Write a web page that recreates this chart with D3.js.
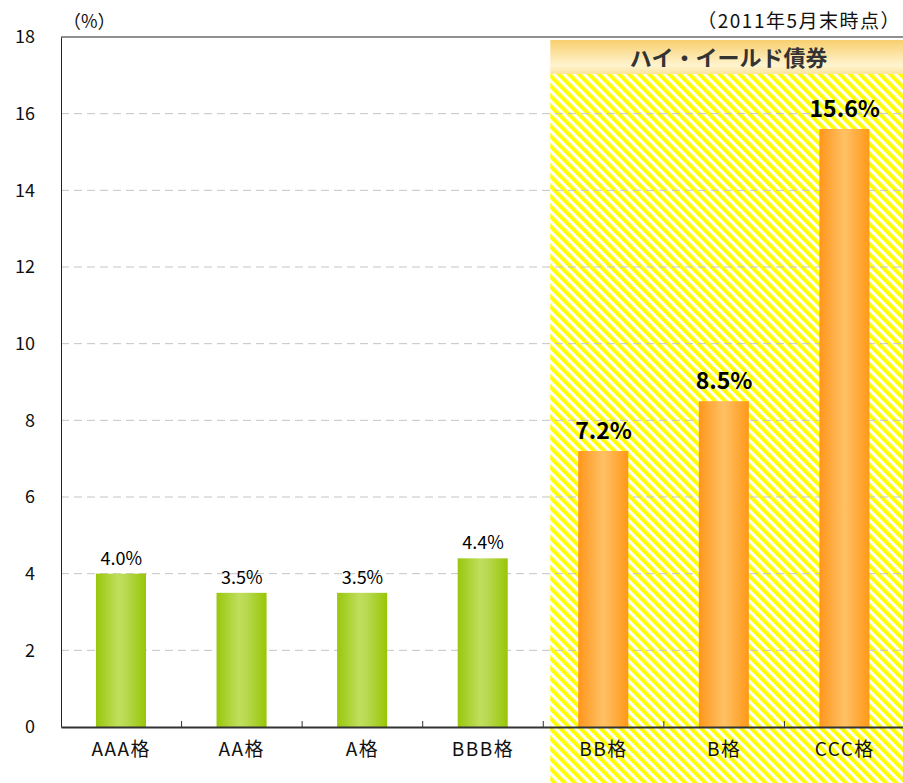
<!DOCTYPE html>
<html><head><meta charset="utf-8">
<script src="https://cdn.jsdelivr.net/npm/d3@7"></script>
<style>
body{margin:0;background:#fff;}
text{font-family:"Noto Sans CJK JP",sans-serif;}
</style></head>
<body><svg id="c" width="903" height="783"></svg>
<script>
const categories = ["AAA格","AA格","A格","BBB格","BB格","B格","CCC格"];
const values = [4.0, 3.5, 3.5, 4.4, 7.2, 8.5, 15.6];
const labels = ["4.0%","3.5%","3.5%","4.4%","7.2%","8.5%","15.6%"];
const highYield = [false,false,false,false,true,true,true];
const yTicks = [0,2,4,6,8,10,12,14,16,18];
const unitLabel = "（%）";
const dateLabel = "（2011年5月末時点）";
const bandTitle = "ハイ・イールド債券";

const svg = d3.select("#c");
const L = 61, R = 905, T = 37, B = 727;
const x = d3.scaleBand().domain(categories).range([L, R]).paddingInner(0).paddingOuter(0);
const y = d3.scaleLinear().domain([0, 18]).range([B, T]);
const defs = svg.append("defs");

const pat = defs.append("pattern").attr("id","hatch").attr("patternUnits","userSpaceOnUse")
  .attr("width",7.1).attr("height",20).attr("patternTransform","rotate(-45)");
pat.append("rect").attr("width",7.1).attr("height",20).attr("fill","#ffffff");
pat.append("rect").attr("width",4).attr("height",20).attr("fill","#ffff00");

const gG = defs.append("linearGradient").attr("id","gGreen").attr("x1","0").attr("x2","1").attr("y1","0").attr("y2","0");
gG.append("stop").attr("offset","0").attr("stop-color","#99c70c");
gG.append("stop").attr("offset","0.45").attr("stop-color","#c0de5e");
gG.append("stop").attr("offset","0.6").attr("stop-color","#b8d950");
gG.append("stop").attr("offset","1").attr("stop-color","#97c606");
const gO = defs.append("linearGradient").attr("id","gOrange").attr("x1","0").attr("x2","1").attr("y1","0").attr("y2","0");
gO.append("stop").attr("offset","0").attr("stop-color","#ff961c");
gO.append("stop").attr("offset","0.5").attr("stop-color","#ffc165");
gO.append("stop").attr("offset","1").attr("stop-color","#ff9818");
const gH = defs.append("linearGradient").attr("id","gHead").attr("x1","0").attr("x2","0").attr("y1","0").attr("y2","1");
gH.append("stop").attr("offset","0").attr("stop-color","#f8cf6e");
gH.append("stop").attr("offset","0.75").attr("stop-color","#fff4cf");
gH.append("stop").attr("offset","1").attr("stop-color","#fbe3a0");

// hatched high-yield region
const hyStart = x(categories[4]) + 7;
svg.append("rect").attr("x",hyStart).attr("y",74).attr("width",903-hyStart).attr("height",783-74).attr("fill","url(#hatch)");
svg.append("rect").attr("x",hyStart).attr("y",40).attr("width",903-hyStart).attr("height",34).attr("fill","url(#gHead)");
svg.append("text").attr("x",(hyStart+903)/2 + 2).attr("y",66).attr("text-anchor","middle")
  .attr("font-size",22).attr("font-weight","bold").attr("fill","#333").text(bandTitle);

// gridlines
svg.append("g").selectAll("line").data(yTicks.filter(d=>d>0 && d<18)).join("line")
  .attr("x1",L).attr("x2",903).attr("y1",d=>y(d)).attr("y2",d=>y(d))
  .attr("stroke","#c4c4c4").attr("stroke-width",1).attr("stroke-dasharray","8,5");

// top border
svg.append("line").attr("x1",L).attr("x2",903).attr("y1",y(18)).attr("y2",y(18)).attr("stroke","#222").attr("stroke-width",1);

// bars
svg.append("g").selectAll("rect").data(categories).join("rect")
  .attr("x",d=>x(d)+x.bandwidth()*0.29).attr("width",x.bandwidth()*0.415)
  .attr("y",(d,i)=>y(values[i])).attr("height",(d,i)=>B-y(values[i]))
  .attr("fill",(d,i)=>highYield[i]?"url(#gOrange)":"url(#gGreen)");

// value labels
svg.append("g").selectAll("text").data(categories).join("text")
  .attr("x",d=>x(d)+x.bandwidth()/2)
  .attr("y",(d,i)=>y(values[i]) - (highYield[i]?12:9))
  .attr("text-anchor","middle")
  .attr("font-size",(d,i)=>highYield[i]?23:18)
  .attr("font-weight",(d,i)=>highYield[i]?"bold":"normal")
  .attr("fill","#000")
  .text((d,i)=>labels[i]);

// y axis
const yAxis = svg.append("g").attr("transform",`translate(${L},0)`)
  .call(d3.axisLeft(y).tickValues(yTicks).tickSize(0).tickPadding(26));
yAxis.select(".domain").attr("stroke","#222");
yAxis.selectAll("text").attr("font-size",18).attr("fill","#111").attr("font-family","Noto Sans CJK JP");

// x axis
const xAxis = svg.append("g").attr("transform",`translate(0,${B})`)
  .call(d3.axisBottom(x).tickSize(0).tickPadding(16));
xAxis.select(".domain").attr("stroke","#333").attr("stroke-width",2);
xAxis.selectAll("text").attr("font-size",19).attr("fill","#111").attr("letter-spacing","1.5px").attr("font-family","Noto Sans CJK JP");
svg.append("g").selectAll("line").data(categories.slice(1)).join("line")
  .attr("x1",d=>x(d)).attr("x2",d=>x(d)).attr("y1",B).attr("y2",B-6).attr("stroke","#333");

// header texts
svg.append("text").attr("x",63).attr("y",28).attr("font-size",18).attr("fill","#111").text(unitLabel);
svg.append("text").attr("x",901).attr("y",28).attr("text-anchor","end").attr("font-size",19).attr("letter-spacing","1.5px").attr("fill","#111").text(dateLabel);
</script></body></html>
